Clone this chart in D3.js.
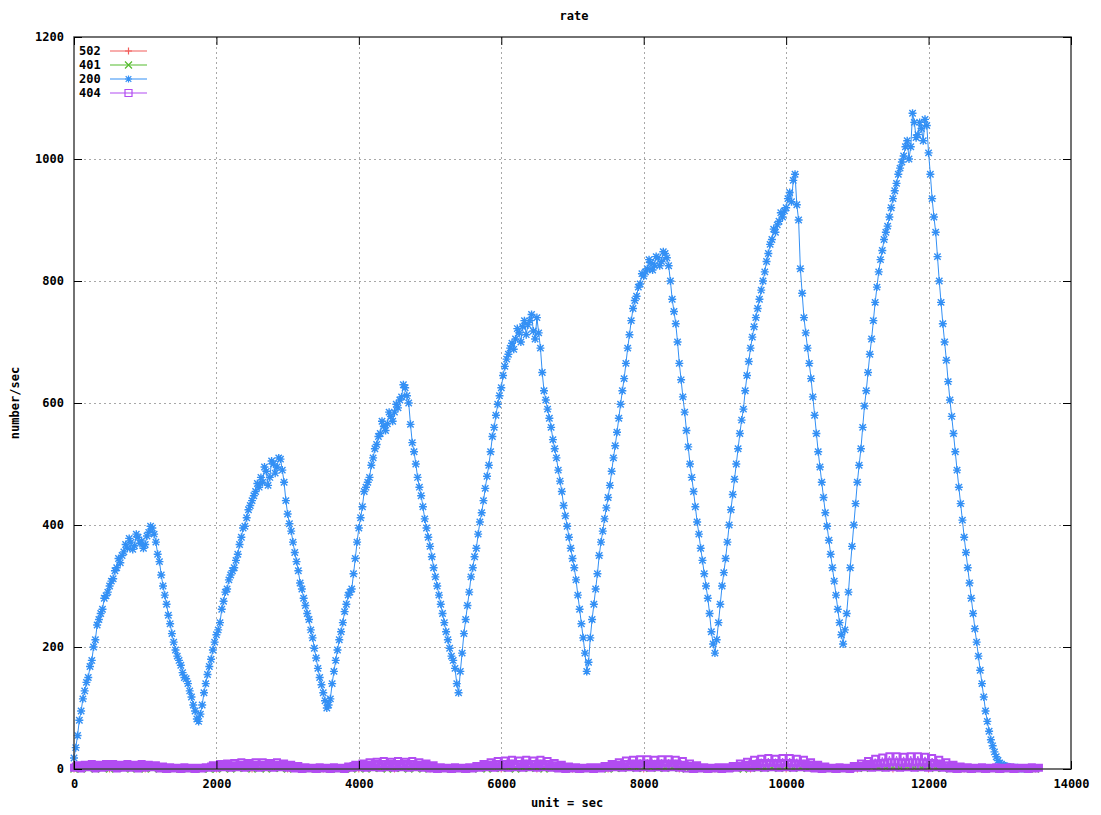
<!DOCTYPE html>
<html>
<head>
<meta charset="utf-8">
<script src="https://cdn.jsdelivr.net/npm/d3@7"></script>
<style>
body { margin: 0; background: #fff; }
text { font-family: "DejaVu Sans Mono", monospace; font-weight: bold; font-size: 12px; fill: #000; }
</style>
</head>
<body>
<div id="chart"></div>
<script>
// series, in gnuplot draw order
var seriesNames = ["502", "401", "200", "404"]
var seriesColors = ["#f25d5a", "#55bb2e", "#3390f5", "#b24cf2"]
var seriesMarkers = ["plus", "cross", "star", "square"]

// sample spacing (sec) of each series
var stepSec = [500, 100, 25, 25]

// 502 : always zero
var rate502 = [0,0,0,0,0,0,0,0,0,0, 0,0,0,0,0,0,0,0,0,0, 0,0,0,0,0,0,0,0]

// 401 : every 100 sec
var rate401 = [
  0,0,1,0,1,0,1,1,0,1,
  0,1,0,1,0,0,0,0,0,0,
  0,1,0,1,1,0,1,0,1,1,
  0,1,0,0,0,0,0,0,0,0,
  1,0,1,1,0,1,1,0,1,0,
  1,0,0,0,0,0,0,1,0,1,
  1,1,0,1,1,2,0,1,1,0,
  0,0,0,0,1,0,1,1,2,1,
  1,2,1,1,2,1,0,1,0,0,
  0,0,1,1,0,2,1,1,2,1,
  2,1,2,1,1,0,0,0,0,1,
  2,1,3,2,2,3,2,3,2,2,
  3,1,1,0,0,0,0,0,0,0,
  0,0,0,0,0,0
]

// 200 : every 25 sec
var rate200 = [
  18,35,55,80,95,115,128,142,150,168,178,200,212,236,245,255,262,280,284,290,
  300,308,312,325,330,345,338,350,356,368,362,378,372,360,366,385,380,370,374,362,
  368,382,388,398,395,385,372,352,340,318,300,285,270,252,238,222,208,195,185,178,
  170,158,150,148,140,128,118,105,95,82,78,90,105,125,140,155,168,180,195,208,
  220,228,240,262,275,290,295,310,318,325,330,342,352,368,380,395,398,412,425,432,
  440,448,455,468,462,478,470,495,488,465,478,505,500,485,495,510,508,490,470,440,
  418,402,390,372,355,340,325,305,295,280,268,255,245,228,215,198,182,165,150,138,
  125,112,100,105,115,140,160,178,195,212,225,240,258,270,285,290,295,320,345,372,
  395,412,430,455,462,470,478,498,510,525,532,545,550,570,562,555,566,585,578,570,
  585,598,592,605,610,630,625,612,600,565,535,520,500,478,462,448,430,410,395,380,
  365,348,330,315,300,285,270,255,240,225,212,198,185,178,165,140,125,160,190,222,
  245,268,290,315,330,348,362,385,405,420,440,460,480,498,520,545,560,580,598,612,
  625,645,660,672,680,690,698,688,705,722,715,700,725,735,712,728,735,745,718,705,
  740,715,690,650,620,605,590,575,560,540,525,510,490,472,455,432,415,398,380,362,
  345,330,310,285,262,238,215,190,160,175,215,245,270,295,320,350,372,390,410,428,
  445,465,488,510,530,552,575,598,620,640,665,690,712,735,755,768,775,790,795,812,
  808,815,820,835,830,818,826,840,838,825,832,848,845,838,825,800,770,750,730,700,
  665,638,610,585,555,528,500,478,455,430,405,385,362,342,320,300,280,255,225,205,
  190,212,240,270,300,322,345,372,400,425,450,475,500,525,550,572,590,620,645,668,
  690,708,725,740,755,770,785,800,815,832,845,860,868,885,880,892,898,912,905,915,
  920,935,945,930,965,975,925,900,820,780,740,715,690,665,640,610,580,550,520,495,
  470,445,420,398,375,352,330,308,285,262,240,220,205,228,255,290,330,365,400,435,
  470,498,525,560,595,620,650,680,705,735,765,790,815,835,850,868,880,890,905,920,
  935,948,960,975,985,995,1005,1020,1030,1000,1020,1075,1060,1035,1040,1060,1050,1030,1065,1055,
  1010,975,935,905,880,840,800,765,730,700,670,635,605,578,550,520,490,462,435,408,
  380,355,330,305,280,255,230,208,185,162,140,118,95,78,62,48,38,28,20,14,
  10,8,6,5,4,3,3,2,2,2,2,1,1,1,1
]

// 404 : every 25 sec
var rate404 = [
  2,4,6,3,1,5,7,4,3,6,8,5,1,4,7,5,2,6,8,4,
  3,6,8,4,1,5,7,3,2,6,8,5,2,5,7,4,1,6,8,4,
  2,5,7,5,3,5,6,3,1,3,4,2,0,2,3,1,1,2,2,1,
  0,2,3,1,1,2,2,1,0,1,2,1,1,2,3,2,2,4,6,4,
  2,5,8,5,3,7,9,5,2,6,10,6,3,7,11,6,2,7,10,6,
  3,7,11,6,2,7,11,6,3,7,10,6,2,7,11,6,3,6,9,5,
  2,5,7,4,1,3,5,2,0,2,3,1,1,2,2,1,0,2,3,1,
  1,2,2,1,0,2,3,1,1,2,2,1,0,2,4,3,2,5,7,4,
  3,6,9,5,2,7,11,6,3,8,12,7,2,8,13,7,3,8,12,6,
  2,8,13,7,3,8,12,7,2,8,13,7,3,7,11,6,2,6,9,5,
  1,4,6,3,0,2,3,1,1,2,2,1,0,2,3,1,1,2,2,1,
  0,2,3,2,1,3,5,3,2,5,8,5,3,7,11,6,2,8,13,7,
  3,8,14,8,2,9,15,8,3,8,14,8,2,9,15,8,3,8,14,8,
  2,9,15,8,3,8,13,7,2,6,10,6,1,4,7,4,0,2,4,2,
  1,2,3,1,0,1,2,1,1,2,3,1,0,2,3,2,1,3,5,3,
  2,5,8,5,3,7,11,6,2,8,14,8,3,9,15,8,2,9,16,9,
  3,9,16,9,2,8,15,8,3,9,16,9,2,9,16,9,3,9,15,8,
  2,7,13,7,1,5,9,5,0,3,6,3,1,2,3,1,0,1,2,1,
  1,2,3,1,0,2,3,2,1,3,5,3,2,5,9,5,3,7,12,7,
  2,8,15,8,3,10,17,9,2,10,18,10,3,10,17,9,2,10,18,10,
  3,10,18,10,2,9,17,9,3,9,15,8,2,7,11,6,1,4,7,4,
  0,2,4,2,1,2,2,1,0,2,3,1,1,2,2,1,0,2,5,3,
  2,5,9,5,3,8,13,7,2,9,17,9,3,10,19,10,2,11,21,11,
  3,11,21,11,2,11,20,10,3,11,21,11,2,11,21,11,3,11,20,10,
  2,10,18,10,3,9,15,8,2,6,11,6,1,4,7,4,0,2,4,2,
  1,2,3,1,0,1,2,1,1,2,3,1,0,1,2,1,1,2,3,1,
  0,1,2,1,1,2,3,1,0,1,2,1,1,2,2,1,0,2,3,1,
  1,2,2
]

var seriesValues = [rate502, rate401, rate200, rate404]

var xTicks = [0, 2000, 4000, 6000, 8000, 10000, 12000, 14000]
var yTicks = [0, 200, 400, 600, 800, 1000, 1200]

// layout
var W = 1101, H = 815
var margin = {top: 37, right: 30, bottom: 46, left: 74}
var width = W - margin.left - margin.right,
    height = H - margin.top - margin.bottom

var svg = d3.select("#chart")
  .append("svg")
  .attr("width", W)
  .attr("height", H)

var x = d3.scaleLinear().domain([0, 14000]).range([margin.left, margin.left + width])
var y = d3.scaleLinear().domain([0, 1200]).range([margin.top + height, margin.top])

// grid
var grid = svg.append("g")
  .attr("stroke", "#a8a8a8")
  .attr("stroke-dasharray", "2,3")
  .attr("stroke-width", 1)

grid.selectAll("line.gx")
  .data(xTicks.filter(function(d) { return d > 0 && d < 14000 }))
  .enter().append("line")
  .attr("x1", function(d) { return Math.round(x(d)) + 0.5 })
  .attr("x2", function(d) { return Math.round(x(d)) + 0.5 })
  .attr("y1", y(1200))
  .attr("y2", y(0))

grid.selectAll("line.gy")
  .data(yTicks.filter(function(d) { return d > 0 && d < 1200 }))
  .enter().append("line")
  .attr("y1", function(d) { return Math.round(y(d)) + 0.5 })
  .attr("y2", function(d) { return Math.round(y(d)) + 0.5 })
  .attr("x1", x(0))
  .attr("x2", x(14000))

// marker size / pen per series
var markerR = [3.5, 3.5, 4, 3]
var markerW = [1, 1.2, 1.4, 2]

// marker path for one point
function markerPath(kind, cx, cy, r) {
  if (kind == "plus")
    return "M" + (cx - r) + "," + cy + "H" + (cx + r) + "M" + cx + "," + (cy - r) + "V" + (cy + r)
  if (kind == "cross")
    return "M" + (cx - r) + "," + (cy - r) + "L" + (cx + r) + "," + (cy + r) +
           "M" + (cx - r) + "," + (cy + r) + "L" + (cx + r) + "," + (cy - r)
  if (kind == "star")
    return markerPath("plus", cx, cy, r) + markerPath("cross", cx, cy, r * 0.8)
  return "M" + (cx - r) + "," + (cy - r) + "h" + (2 * r) + "v" + (2 * r) + "h" + (-2 * r) + "Z"
}

var line = d3.line()
  .x(function(d) { return x(d.t) })
  .y(function(d) { return y(d.v) })

var plot = svg.append("g")

seriesNames.forEach(function(name, i) {
  var pts = seriesValues[i].map(function(v, k) { return {t: k * stepSec[i], v: v} })

  plot.append("path")
    .datum(pts)
    .attr("d", line)
    .attr("fill", "none")
    .attr("stroke", seriesColors[i])
    .attr("stroke-width", 1)

  plot.append("path")
    .attr("d", pts.map(function(d) { return markerPath(seriesMarkers[i], x(d.t), y(d.v), markerR[i]) }).join(""))
    .attr("fill", "none")
    .attr("stroke", seriesColors[i])
    .attr("stroke-width", markerW[i])
})

// frame
svg.append("rect")
  .attr("x", x(0))
  .attr("y", y(1200))
  .attr("width", x(14000) - x(0))
  .attr("height", y(0) - y(1200))
  .attr("fill", "none")
  .attr("stroke", "#444")
  .attr("stroke-width", 1.5)

// axes, gnuplot style: ticks inward on all four sides
var fmt = d3.format("d")
var axB = svg.append("g")
  .attr("transform", "translate(0," + y(0) + ")")
  .call(d3.axisBottom(x).tickValues(xTicks).tickSize(-8).tickSizeOuter(0).tickPadding(10).tickFormat(fmt))
var axT = svg.append("g")
  .attr("transform", "translate(0," + y(1200) + ")")
  .call(d3.axisTop(x).tickValues(xTicks).tickSize(-8).tickSizeOuter(0).tickFormat(""))
var axL = svg.append("g")
  .attr("transform", "translate(" + x(0) + ",0)")
  .call(d3.axisLeft(y).tickValues(yTicks).tickSize(-8).tickSizeOuter(0).tickPadding(10).tickFormat(fmt))
var axR = svg.append("g")
  .attr("transform", "translate(" + x(14000) + ",0)")
  .call(d3.axisRight(y).tickValues(yTicks).tickSize(-8).tickSizeOuter(0).tickFormat(""))

;[axB, axT, axL, axR].forEach(function(a) {
  a.select(".domain").remove()
  a.selectAll("line").attr("stroke", "#000")
  a.selectAll("text")
    .attr("fill", "#000")
    .style("font-family", "DejaVu Sans Mono, monospace")
    .style("font-weight", "bold")
    .style("font-size", "12px")
})

// titles
svg.append("text")
  .attr("x", 574)
  .attr("y", 20)
  .attr("text-anchor", "middle")
  .text("rate")

svg.append("text")
  .attr("x", 567)
  .attr("y", 807)
  .attr("text-anchor", "middle")
  .text("unit = sec")

svg.append("text")
  .attr("transform", "translate(19,403) rotate(-90)")
  .attr("text-anchor", "middle")
  .text("number/sec")

// key
var key = svg.append("g")
seriesNames.forEach(function(name, i) {
  var ky = 51 + i * 14
  key.append("text")
    .attr("x", 79)
    .attr("y", ky + 4)
    .text(name)
  key.append("path")
    .attr("d", "M110," + ky + "H147")
    .attr("fill", "none")
    .attr("stroke", seriesColors[i])
    .attr("stroke-width", 1.2)
  key.append("path")
    .attr("d", markerPath(seriesMarkers[i], 128.5, ky, 3.5))
    .attr("fill", "none")
    .attr("stroke", seriesColors[i])
    .attr("stroke-width", 1.2)
})
</script>
</body>
</html>
